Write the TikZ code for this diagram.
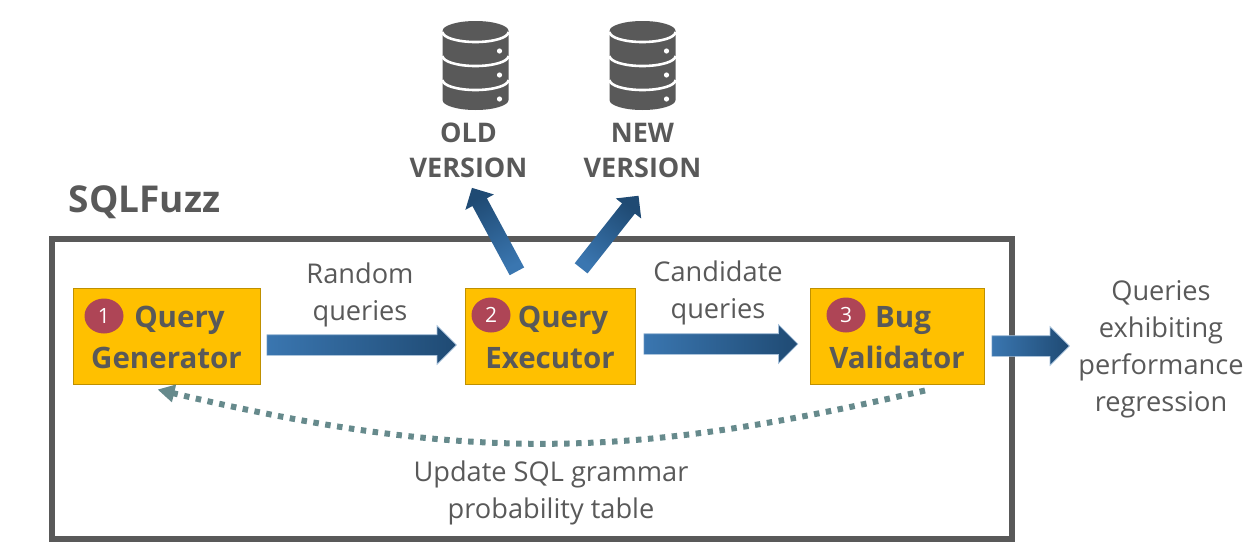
\documentclass[tikz,border=0pt]{standalone}
\usepackage{fontspec}
\setmainfont{Open Sans}
\usetikzlibrary{shapes,calc,arrows.meta}

\definecolor{inkgray}{HTML}{595959}
\definecolor{boxyellow}{HTML}{FFC000}
\definecolor{boxedge}{HTML}{BF9000}
\definecolor{badgered}{HTML}{AE4556}
\definecolor{loopteal}{HTML}{668A8C}
\definecolor{flowlight}{HTML}{3A76B0}
\definecolor{flowdark}{HTML}{1F4A73}

\tikzset{
	modulebox/.style={draw=boxedge,fill=boxyellow,line width=1pt,inner sep=0pt,minimum height=96pt,align=center,text=inkgray,font=\fontsize{29.5}{41}\selectfont\bfseries},
	badge/.style={ellipse,fill=badgered,inner sep=0pt,minimum width=39pt,minimum height=35pt,text=white,font=\fontsize{21}{21}\selectfont},
	caption/.style={align=center,text=inkgray,font=\fontsize{27.2}{37}\selectfont},
	versionlabel/.style={align=center,text=inkgray,font=\fontsize{27}{35}\selectfont\bfseries},
	flow/.style={single arrow,single arrow tip angle=90,inner xsep=0pt,inner ysep=10pt,left color=flowlight,right color=flowdark,minimum width=38pt,single arrow head extend=9pt,anchor=tail},
	flowedge/.style={draw=flowlight!45,line width=.7pt},
	dbicon/.pic={
		\fill [inkgray] (-33,-31) arc (180:0:33 and 10) -- (33,-100) arc (0:-180:33 and 10) -- cycle;
		\foreach \y in {32,56,80}{
			\draw [white,line width=2.6pt] (-33,-\y) arc (-180:0:33 and 10);
			\fill [white] (24,-\y-19) circle (2.6);
		}
	},
}

\newcommand{\flowarrow}[3][]{
	\path let \p1=($(#3)-(#2)$), \n1={atan2(\y1,\x1)}, \n2={veclen(\x1,\y1)} in
		node [flow,#1,shading angle={\n1+90},rotate=\n1,minimum height=\n2] at (#2) {};
}
\newcommand{\boxstrut}{\rule{0pt}{24pt}}

\begin{document}
\begin{tikzpicture}[x=1pt,y=1pt]
	\useasboundingbox (0,0) rectangle (1258,-549);

	% outer frame
	\node (sqlfuzz) [draw=inkgray,line width=6pt,inner sep=0pt,minimum width=960pt,minimum height=300pt] at (532,-389) {};
	\node (title) [text=inkgray,font=\fontsize{37}{37}\selectfont\bfseries] at (144.5,-202) {SQLFuzz};

	% databases
	\pic at (475.5,0) {dbicon};
	\pic at (642.5,0) {dbicon};
	\node (old) [versionlabel] at (468.5,-150) {OLD\\VERSION};
	\node (new) [versionlabel] at (642.5,-150) {NEW\\VERSION};

	% modules
	\node (gen) [modulebox,minimum width=187pt] at (166.5,-336) {\boxstrut\hspace*{26pt}Query\\Generator};
	\node (exec) [modulebox,minimum width=170pt] at (550,-336) {\boxstrut\hspace*{26pt}Query\\Executor};
	\node (valid) [modulebox,minimum width=174pt] at (897,-336) {\boxstrut\hspace*{12pt}Bug\\Validator};
	\node (one) [badge] at (104,-316) {1};
	\node (two) [badge] at (491,-315) {2};
	\node (three) [badge] at (846,-315) {3};

	% arrow ends
	\coordinate (gen out) at ($(gen.east)+(6,-9)$);
	\coordinate (exec in) at ($(exec.west)+(-8.5,-9)$);
	\coordinate (exec left) at ($(exec.north)+(-33,16)$);
	\coordinate (old in) at ($(old.south)+(3.5,-7)$);
	\coordinate (exec right) at ($(exec.north)+(31,19)$);
	\coordinate (new in) at ($(new.south)+(-4,-15)$);
	\coordinate (exec out) at ($(exec.east)+(8,-8)$);
	\coordinate (valid in) at ($(valid.west)+(-12,-8)$);
	\coordinate (valid out) at ($(valid.east)+(7,-10)$);
	\coordinate (done) at (1069,-346);
	\coordinate (loop start) at ($(valid.south)+(28,-6)$);
	\coordinate (loop end) at ($(gen.south)+(-9,-5)$);

	\flowarrow[flowedge]{gen out}{exec in}
	\flowarrow[flowedge]{exec out}{valid in}
	\flowarrow[flowedge]{valid out}{done}
	\flowarrow[inner ysep=8pt,minimum width=32pt,single arrow head extend=8pt]{exec left}{old in}
	\flowarrow[inner ysep=8pt,minimum width=32pt,single arrow head extend=8pt]{exec right}{new in}

	\draw [loopteal,line width=6pt,dash pattern=on 5.5pt off 6.5pt,-{Triangle[length=17pt,width=17pt]}] (loop start) .. controls (640,-456) and (480,-466) .. (loop end);

	% labels
	\node (random) [caption] at (360,-295) {Random\\queries};
	\node (candidate) [caption] at (718,-293) {Candidate\\queries};
	\node (result) [caption] at (1161,-349) {Queries\\exhibiting\\performance\\regression};
	\node (update) [caption] at (551,-493) {Update SQL grammar\\probability table};
\end{tikzpicture}
\end{document}
